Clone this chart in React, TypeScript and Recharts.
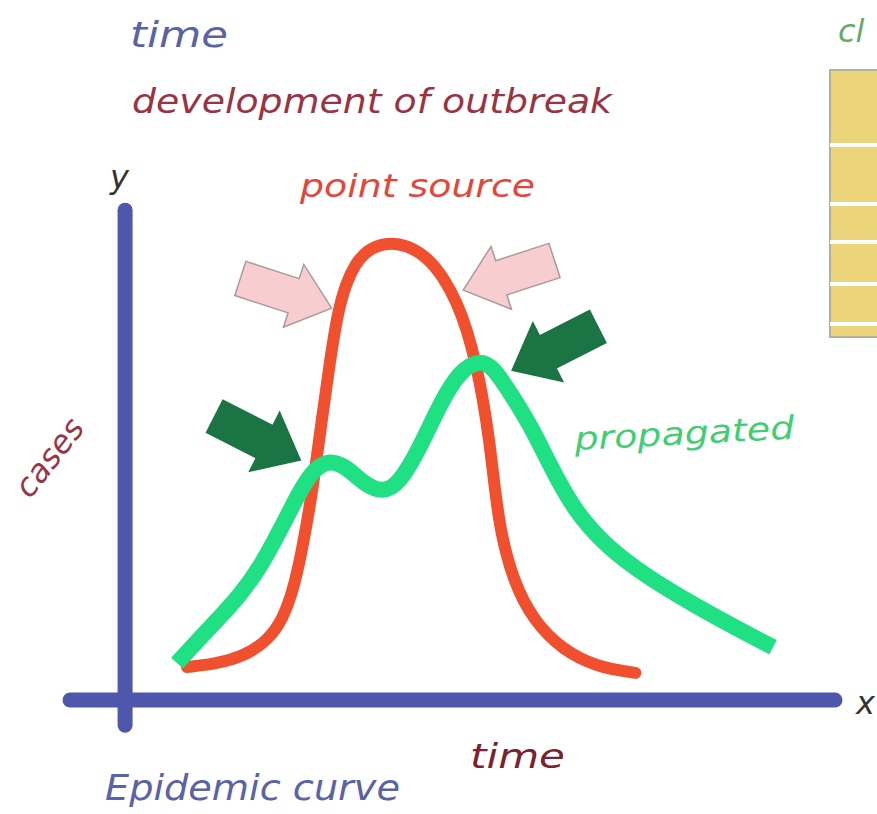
import React from 'react';
import { LineChart, Line, XAxis, YAxis, ReferenceLine, ReferenceDot } from 'recharts';

// Epidemic curve sketch: point source vs propagated outbreak

const W = 877;
const H = 814;

// point source curve (time, cases)
const pointTime = [15.3, 19.0, 22.9, 25.9, 27.8, 29.4, 30.7, 31.8, 32.9, 34.0, 35.0, 36.1, 37.3, 38.8, 41.4, 44.1, 46.7, 48.8, 50.6, 51.9, 53.1, 54.0, 54.8, 55.4, 56.2, 57.9, 60.5, 64.4, 68.9, 73.9];
const pointCases = [6.8, 7.4, 9.1, 12.4, 16.5, 23.7, 34.0, 44.3, 57.7, 70.1, 80.0, 86.0, 89.9, 92.8, 94.4, 93.8, 91.3, 87.2, 81.9, 76.3, 69.1, 61.9, 53.6, 45.4, 35.1, 24.7, 16.5, 10.3, 6.8, 5.6];

// propagated curve (time, cases)
const propTime = [14.0, 17.0, 19.6, 22.2, 24.8, 27.5, 30.1, 32.0, 34.0, 36.2, 38.3, 40.9, 43.1, 45.8, 48.4, 51.0, 53.6, 55.3, 57.9, 60.5, 62.4, 65.8, 70.2, 75.4, 82.0, 87.6, 91.9];
const propCases = [7.6, 12.8, 17.1, 21.6, 27.2, 35.1, 43.3, 47.8, 49.5, 48.0, 44.7, 42.7, 44.7, 52.2, 61.2, 68.0, 70.1, 68.7, 62.5, 55.7, 49.5, 39.2, 31.5, 25.4, 19.2, 14.4, 10.9];

// arrows pointing at the peaks (tip position in data units, direction in degrees)
const arrowTime = [34.2, 51.4, 30.1, 57.8];
const arrowCases = [80.8, 84.5, 49.5, 68.0];
const arrowAngle = [18, 162, 27, 153];
const arrowKind = ['pink', 'pink', 'green', 'green'];

const pointData = pointTime.map((t, i) => ({ t, cases: pointCases[i] }));
const propData = propTime.map((t, i) => ({ t, cases: propCases[i] }));

const AXIS_BLUE = '#4f57ad';
const hand = '"DejaVu Sans", "Noto Sans", sans-serif';

const makeArrow = (angle: number, kind: string) => (props: any) => {
  const { cx, cy } = props;
  const L = 96;
  const w = 18;
  const hw = 33;
  const hl = 40;
  const pts = [
    [0, 0], [-hl, -hw], [-hl, -w], [-L, -w], [-L, w], [-hl, w], [-hl, hw],
  ].map((p) => p.join(',')).join(' ');
  return (
    <polygon
      points={pts}
      transform={`translate(${cx},${cy}) rotate(${angle})`}
      fill={kind === 'pink' ? '#f8cdd0' : '#1b7443'}
      stroke={kind === 'pink' ? '#a89a9a' : '#1b7443'}
      strokeWidth={1.5}
      strokeLinejoin="miter"
    />
  );
};

const Annotations = () => (
  <svg
    width={W}
    height={H}
    style={{ position: 'absolute', left: 0, top: 0, pointerEvents: 'none' }}
  >
    {/* partial table on the right edge */}
    <rect x={830} y={70} width={60} height={267} fill="#ebd47a" stroke="#b8b096" strokeWidth={2} />
    {[145, 204, 242, 284, 324].map((y) => (
      <line key={y} x1={830} x2={877} y1={y} y2={y} stroke="#ffffff" strokeWidth={4} />
    ))}
    <text x={838} y={42} fill="#6aa86a" fontSize={32} fontStyle="italic" fontFamily={hand}>cl</text>

    <text x={130} y={47} fill="#5a62a8" fontSize={36} fontStyle="italic" fontFamily={hand} textLength={98} lengthAdjust="spacingAndGlyphs">time</text>
    <text x={132} y={113} fill="#9a3344" fontSize={34} fontStyle="italic" fontFamily={hand} textLength={480} lengthAdjust="spacingAndGlyphs">development of outbreak</text>
    <text x={110} y={188} fill="#333333" fontSize={32} fontStyle="italic" fontFamily={hand}>y</text>
    <text x={300} y={197} fill="#e4463a" fontSize={32} fontStyle="italic" fontFamily={hand} textLength={235} lengthAdjust="spacingAndGlyphs">point source</text>
    <text x={575} y={450} fill="#3fcf72" fontSize={32} fontStyle="italic" fontFamily={hand} textLength={220} lengthAdjust="spacingAndGlyphs" transform="rotate(-3 575 450)">propagated</text>
    <text x={50} y={468} fill="#9a3344" fontSize={32} fontStyle="italic" fontFamily={hand} textAnchor="middle" transform="rotate(-52 50 458)">cases</text>
    <text x={470} y={768} fill="#7a2232" fontSize={34} fontStyle="italic" fontFamily={hand} textLength={95} lengthAdjust="spacingAndGlyphs">time</text>
    <text x={105} y={800} fill="#5a62a8" fontSize={36} fontStyle="italic" fontFamily={hand} textLength={295} lengthAdjust="spacingAndGlyphs">Epidemic curve</text>
    <text x={856} y={714} fill="#333333" fontSize={32} fontStyle="italic" fontFamily={hand}>x</text>
  </svg>
);

export default function App() {
  return (
    <div style={{ position: 'fixed', left: 0, top: 0, width: W, height: H, background: '#ffffff' }}>
      <LineChart width={W} height={H} margin={{ top: 215, right: 42, bottom: 100, left: 70 }}>
        <XAxis
          type="number"
          dataKey="t"
          domain={[0, 100]}
          allowDataOverflow
          height={14}
          tick={false}
          tickLine={false}
          axisLine={{ stroke: AXIS_BLUE, strokeWidth: 15, strokeLinecap: 'round' }}
        />
        <YAxis type="number" dataKey="cases" domain={[0, 100]} allowDataOverflow hide />
        <ReferenceLine
          segment={[{ x: 7.2, y: 101 }, { x: 7.2, y: -5.2 }]}
          stroke={AXIS_BLUE}
          strokeWidth={15}
          strokeLinecap="round"
          ifOverflow="visible"
        />
        <Line
          data={pointData}
          dataKey="cases"
          type="basis"
          stroke="#f1502f"
          strokeWidth={12}
          strokeLinecap="round"
          dot={false}
          activeDot={false}
          isAnimationActive={false}
        />
        <Line
          data={propData}
          dataKey="cases"
          type="basis"
          stroke="#1fe083"
          strokeWidth={16}
          strokeLinecap="butt"
          dot={false}
          activeDot={false}
          isAnimationActive={false}
        />
        {arrowTime.map((t, i) => (
          <ReferenceDot
            key={i}
            x={t}
            y={arrowCases[i]}
            r={1}
            ifOverflow="visible"
            shape={makeArrow(arrowAngle[i], arrowKind[i])}
          />
        ))}
      </LineChart>
      <Annotations />
    </div>
  );
}
